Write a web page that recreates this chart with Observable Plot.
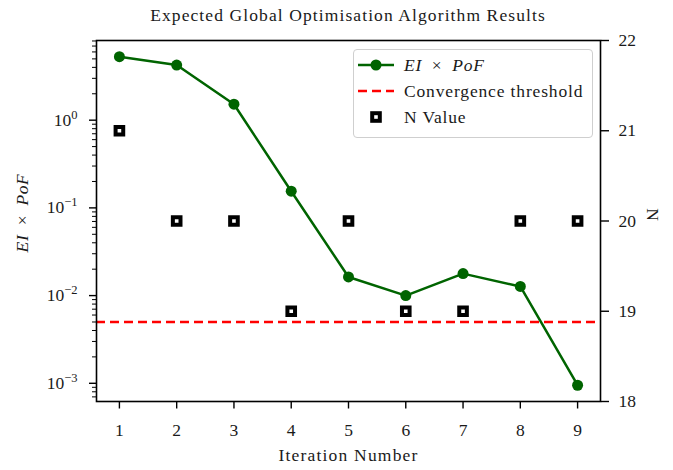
<!DOCTYPE html>
<html>
<head>
<meta charset="utf-8">
<script src="https://cdn.jsdelivr.net/npm/d3@7"></script>
<script src="https://cdn.jsdelivr.net/npm/@observablehq/plot@0.6"></script>
<style>
  body { margin: 0; background: white; }
  #wrap { position: relative; width: 673px; height: 470px; font-family: "Liberation Serif", serif; }
  #wrap > svg { position: absolute; left: 0; top: 0; }
  #title { position: absolute; left: 48px; width: 600px; top: 5px; line-height: 20px; text-align: center; font-size: 17.5px; letter-spacing: 1.1px; color: #1a1a1a; }
  #ylabel { position: absolute; left: 22px; top: 213px; transform: translate(-50%, -50%) rotate(-90deg); white-space: nowrap; font-size: 17.5px; letter-spacing: 0.6px; line-height: 20px; color: #1a1a1a; }
  #legend { position: absolute; left: 353px; top: 49px; width: 238px; height: 87px; border: 1.5px solid #cfcfcf; border-radius: 4px; background: rgba(255,255,255,0.85); font-size: 17.5px; letter-spacing: 0.85px; color: #1a1a1a; }
  .item { position: absolute; left: 0; height: 26px; display: flex; align-items: center; white-space: nowrap; }
  .item svg { margin-left: 4px; margin-right: 10px; }
</style>
</head>
<body>
<div id="wrap">
  <div id="title">Expected Global Optimisation Algorithm Results</div>
</div>
<script>
const iterations = [1, 2, 3, 4, 5, 6, 7, 8, 9];
const eiPof = [5.3, 4.25, 1.52, 0.155, 0.0163, 0.0100, 0.0178, 0.0127, 0.00095];
const nValues = [21, 20, 20, 19, 20, 19, 19, 20, 20];
const threshold = 0.005;
const xTicks = [1, 2, 3, 4, 5, 6, 7, 8, 9];
const yTicks = [1, 0.1, 0.01, 0.001];
const yTickExponents = ["0", "−1", "−2", "−3"];
const nTicks = [18, 19, 20, 21, 22];

const W = 673, H = 470;
const margins = {marginLeft: 96, marginRight: 73, marginTop: 40, marginBottom: 69};
const xDomain = [0.6, 9.4];
const yDomain = [6.2e-4, 8.1];

const rows = iterations.map((it, i) => ({it, v: eiPof[i], n: nValues[i]}));
const minor = [];
for (let e = -4; e <= 0; e++) for (let k = 2; k <= 9; k++) {
  const v = k * Math.pow(10, e);
  if (v >= yDomain[0] && v <= yDomain[1]) minor.push(v);
}

const font = {fontFamily: "Liberation Serif", fontSize: "17.5px", background: "transparent", overflow: "visible"};

const p1 = Plot.plot({
  width: W, height: H, ...margins,
  style: font,
  x: {domain: xDomain, axis: null},
  y: {type: "log", domain: yDomain, axis: null},
  marks: [
    Plot.ruleY([threshold], {stroke: "red", strokeWidth: 2.5, strokeDasharray: "9,5"}),
    Plot.line(rows, {x: "it", y: "v", stroke: "#006400", strokeWidth: 2.5}),
    Plot.dot(rows, {x: "it", y: "v", fill: "#006400", r: 5.5}),
    Plot.axisX(xTicks, {anchor: "bottom", tickSize: 7.5, tickPadding: 15, strokeWidth: 1.4, fill: "#1a1a1a", label: null, tickFormat: d => String(d)}),
    Plot.axisY(yTicks, {anchor: "left", tickSize: 7, tickPadding: 12, strokeWidth: 1.4, fill: "#1a1a1a", label: null,
      tickFormat: d => "10^" + yTickExponents[yTicks.indexOf(d)]}),
    Plot.axisY(minor, {anchor: "left", tickSize: 4, strokeWidth: 1, label: null, tickFormat: () => ""}),
    Plot.frame({stroke: "black", strokeWidth: 1.6}),
    Plot.text(["Iteration Number"], {frameAnchor: "bottom", dy: 59.5, fill: "#1a1a1a"})
  ]
});

const p2 = Plot.plot({
  width: W, height: H, ...margins,
  style: font,
  x: {domain: xDomain, axis: null},
  y: {domain: [18, 22], axis: null},
  marks: [
    Plot.dot(rows, {x: "it", y: "n", symbol: "square", r: 4.3, fill: "white", stroke: "black", strokeWidth: 4}),
    Plot.axisY(nTicks, {anchor: "right", tickSize: 8, tickPadding: 10, strokeWidth: 1.4, fill: "#1a1a1a", label: null, tickFormat: d => String(d)}),
    Plot.text(["N"], {frameAnchor: "right", dx: 52, rotate: 90, fill: "#1a1a1a"})
  ]
});

// superscript exponents and letter spacing for word labels
d3.select(p1).selectAll("text").each(function() {
  const t = this.textContent;
  const m = /^10\^(.+)$/.exec(t);
  if (m) {
    this.textContent = "10";
    d3.select(this).append("tspan").attr("dy", "-7").attr("font-size", "12.5px").text(m[1]);
  } else if (/[A-Za-z]/.test(t)) {
    this.style.letterSpacing = "1.2px";
  }
});

const wrap = document.getElementById("wrap");
wrap.appendChild(p1);
wrap.appendChild(p2);

const ylab = document.createElement("div");
ylab.id = "ylabel";
ylab.innerHTML = "<i>EI</i>&#8194;×&#8194;<i>PoF</i>";
wrap.appendChild(ylab);

const legend = document.createElement("div");
legend.id = "legend";
legend.innerHTML = `
  <div class="item" style="top:2px"><svg width="36" height="20"><line x1="0" y1="10" x2="36" y2="10" stroke="#006400" stroke-width="2.5"/><circle cx="18" cy="10" r="5.5" fill="#006400"/></svg><span><i>EI</i>&#8194;×&#8194;<i>PoF</i></span></div>
  <div class="item" style="top:28px"><svg width="36" height="20"><line x1="0" y1="10" x2="36" y2="10" stroke="red" stroke-width="2.5" stroke-dasharray="9,5"/></svg><span>Convergence threshold</span></div>
  <div class="item" style="top:54px"><svg width="36" height="20"><rect x="14.2" y="6.2" width="7.6" height="7.6" fill="white" stroke="black" stroke-width="4"/></svg><span>N Value</span></div>`;
wrap.appendChild(legend);
</script>
</body>
</html>
